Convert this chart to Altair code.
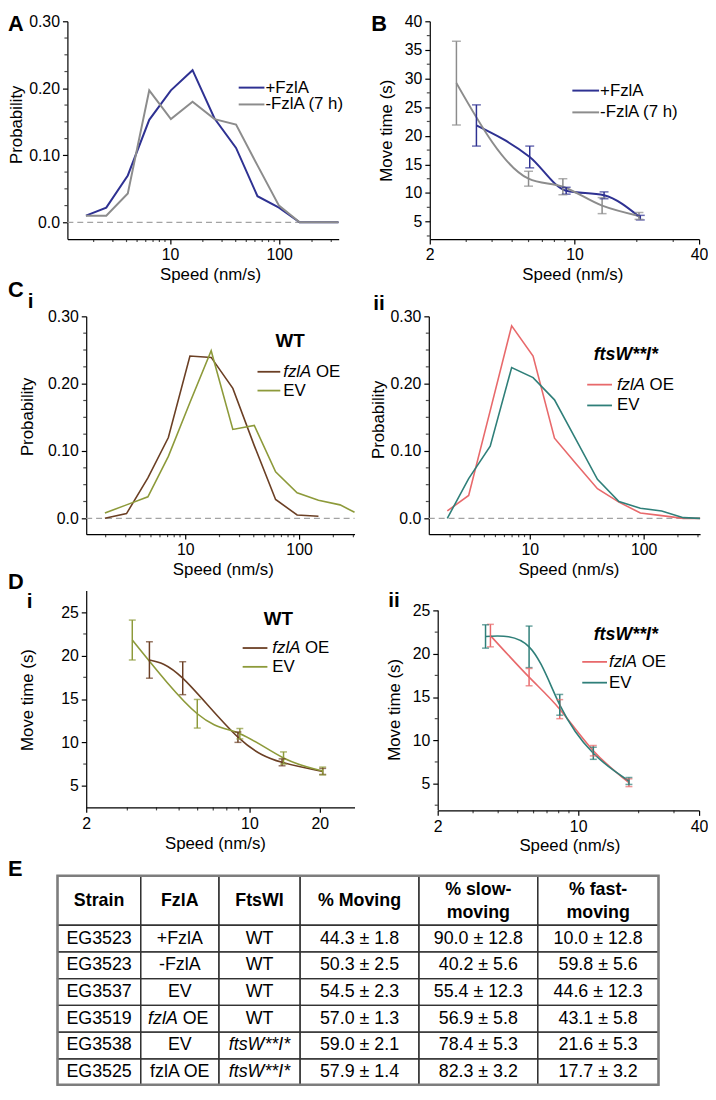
import altair as alt
import pandas as pd

FONT = "Liberation Sans"

# ---------------- data ----------------
A_speed = [1.70, 2.61, 4.11, 6.46, 10.2, 16.1, 25.6, 40.3, 63.3, 99.6, 154, 237, 349]
A_plus = [0.010, 0.022, 0.070, 0.153, 0.197, 0.227, 0.155, 0.111, 0.039, 0.022, 0.0, 0.0, 0.0]
A_minus = [0.010, 0.010, 0.043, 0.197, 0.154, 0.180, 0.154, 0.146, 0.085, 0.025, 0.0, 0.0, 0.0]

B_plus_speed = [3.36, 6.08, 9.12, 13.9, 20.8]
B_plus_time = [21.8, 16.3, 10.4, 9.6, 5.7]
B_plus_err = [3.6, 1.9, 0.6, 0.6, 0.4]
B_minus_speed = [2.69, 6.00, 8.79, 13.6, 20.5]
B_minus_time = [29.2, 12.5, 11.1, 7.8, 6.0]
B_minus_err = [7.3, 1.3, 1.4, 1.4, 0.6]

Ci_speed = [1.97, 3.05, 4.70, 7.11, 11.0, 16.9, 26.2, 40.4, 62.2, 96.1, 148, 229, 307]
Ci_OE = [0.000, 0.007, 0.060, 0.120, 0.241, 0.239, 0.193, 0.108, 0.028, 0.005, 0.003]
Ci_EV = [0.008, 0.020, 0.032, 0.092, 0.172, 0.249, 0.132, 0.138, 0.069, 0.038, 0.027, 0.020, 0.009]

Cii_speed = [1.89, 2.91, 4.50, 6.94, 10.7, 16.5, 25.5, 39.3, 60.7, 93.6, 144, 223, 313]
Cii_OE = [0.011, 0.034, 0.160, 0.286, 0.241, 0.119, 0.081, 0.044, 0.024, 0.008, 0.004, 0.0, 0.0]
Cii_EV = [0.0, 0.059, 0.107, 0.224, 0.209, 0.176, 0.117, 0.058, 0.025, 0.015, 0.011, 0.001, 0.0]

Di_OE_speed = [3.73, 5.18, 8.93, 13.8, 20.6]
Di_OE_time = [19.5, 17.4, 10.6, 7.7, 6.65]
Di_OE_err = [2.1, 1.9, 0.6, 0.4, 0.35]
Di_EV_speed = [3.15, 5.98, 9.1, 14.0, 20.6]
Di_EV_time = [21.8, 13.3, 11.0, 8.2, 6.7]
Di_EV_err = [2.3, 1.65, 0.6, 0.7, 0.45]

Dii_OE_speed = [3.66, 5.70, 8.10, 11.9, 17.9]
Dii_OE_time = [22.1, 17.3, 13.6, 8.8, 5.1]
Dii_OE_err = [1.3, 1.0, 1.1, 0.6, 0.45]
Dii_EV_speed = [3.46, 5.70, 8.10, 11.9, 17.9]
Dii_EV_time = [22.0, 20.8, 14.1, 8.5, 5.3]
Dii_EV_err = [1.35, 2.4, 1.2, 0.7, 0.4]

tab_header = ["Strain", "FzlA", "FtsWI", "% Moving", "% slow-\nmoving", "% fast-\nmoving"]
tab_strain = ["EG3523", "EG3523", "EG3537", "EG3519", "EG3538", "EG3525"]
tab_fzla = ["+FzlA", "-FzlA", "EV", "fzlA OE", "EV", "fzlA OE"]
tab_ftswi = ["WT", "WT", "WT", "WT", "ftsW**I*", "ftsW**I*"]
tab_moving = ["44.3 ± 1.8", "50.3 ± 2.5", "54.5 ± 2.3", "57.0 ± 1.3", "59.0 ± 2.1", "57.9 ± 1.4"]
tab_slow = ["90.0 ± 12.8", "40.2 ± 5.6", "55.4 ± 12.3", "56.9 ± 5.8", "78.4 ± 5.3", "82.3 ± 3.2"]
tab_fast = ["10.0  ± 12.8", "59.8 ± 5.6", "44.6 ± 12.3", "43.1 ± 5.8", "21.6 ± 5.3", "17.7 ± 3.2"]

# ---------------- style ----------------
C_PLUS = "#2e3192"
C_MINUS = "#8c8c8c"
C_WT_OE = "#6b3f24"
C_WT_EV = "#8d9a3a"
C_FT_OE = "#e8696b"
C_FT_EV = "#2f7f79"
MINOR_COLOR = "black"
MINOR_SIZE = 3

ONE = pd.DataFrame({"a": [0]})

PROB_Y_MAJOR = [0.0, 0.1, 0.2, 0.3]
PROB_Y_MINOR = [0.025, 0.05, 0.075, 0.125, 0.15, 0.175, 0.225, 0.25, 0.275]
PROB_EXPR = "datum.value == 0 ? '0.0' : format(datum.value, '.2f')"
INT_EXPR = "format(datum.value, 'd')"
LOG_X_MINOR = [2, 3, 4, 5, 6, 7, 8, 9, 20, 30, 40, 50, 60, 70, 80, 90, 200, 300]


def txt(x, y, s, size=17, weight="normal", style="normal", align="left", baseline="middle"):
    return alt.Chart(ONE).mark_text(
        text=s, font=FONT, fontSize=size, fontWeight=weight, fontStyle=style,
        align=align, baseline=baseline, color="black"
    ).encode(x=alt.value(x), y=alt.value(y))


def seg(x1, x2, y, color, width=2.0):
    return alt.Chart(ONE).mark_rule(color=color, strokeWidth=width).encode(
        x=alt.value(x1), x2=alt.value(x2), y=alt.value(y))


def letter(x, y, s, size=22):
    return txt(x, y, s, size=size, weight="bold", baseline="alphabetic")


def x_major(values, tx):
    return alt.Axis(orient="bottom", values=values, tickSize=5, labelPadding=3,
                    labelExpr="format(datum.value, '~g')",
                    title="Speed (nm/s)", titleX=tx, titleY=36, titleAlign="center",
                    titleBaseline="middle", titleAngle=0)


def y_major(values, title, tx, ty, expr, off, domain=True):
    return alt.Axis(orient="left", values=values, tickSize=5, labelPadding=3, offset=-off,
                    labelExpr=expr, title=title, titleX=tx, titleY=ty,
                    titleAlign="center", titleBaseline="middle", titleAngle=270,
                    domain=domain)


def minor_ticks(xs, ys, xvals, yvals, off, H):
    """Short minor tick marks placed through the panel's own scales."""
    tx = alt.Chart(pd.DataFrame({"v": xvals})).mark_tick(
        orient="vertical", size=MINOR_SIZE, thickness=1.2, color=MINOR_COLOR
    ).encode(x=alt.X("v:Q", scale=xs, axis=None), y=alt.value(H + MINOR_SIZE / 2))
    ty = alt.Chart(pd.DataFrame({"v": yvals})).mark_tick(
        orient="horizontal", size=MINOR_SIZE, thickness=1.2, color=MINOR_COLOR
    ).encode(y=alt.Y("v:Q", scale=ys, axis=None), x=alt.value(off - MINOR_SIZE / 2))
    return [tx, ty]


def prob_panel(speeds, series, colors, CW, off, w, H, xdom, ydom, xmaj,
               xtitle_x, ytx, yty, lw, extras):
    rows = []
    for col, vals in zip(colors, series):
        for s, v in zip(speeds, vals):
            rows.append({"speed": s, "p": v, "color": col})
    df = pd.DataFrame(rows)
    xs = alt.Scale(type="log", domain=xdom, range=[off, off + w], nice=False)
    ys = alt.Scale(domain=ydom, nice=False, zero=False)
    zero = alt.Chart(pd.DataFrame({"z": [0.0]})).mark_rule(
        color="#a3a3a3", strokeDash=[6, 4], strokeWidth=1.2
    ).encode(x=alt.value(off), x2=alt.value(off + w), y=alt.Y("z:Q", scale=ys, axis=None))
    lines = alt.Chart(df).mark_line(strokeWidth=lw).encode(
        x=alt.X("speed:Q", scale=xs, axis=x_major(xmaj, xtitle_x)),
        y=alt.Y("p:Q", scale=ys, axis=y_major(PROB_Y_MAJOR, "Probability", ytx, yty,
                                              PROB_EXPR, off)),
        color=alt.Color("color:N", scale=None), detail="color:N")
    mt = minor_ticks(xs, ys, LOG_X_MINOR, PROB_Y_MINOR, off, H)
    return alt.layer(zero, lines, *mt, *extras).properties(width=CW, height=H).resolve_axis(
        x="independent", y="independent")


def time_panel(groups, colors, CW, off, w, H, xdom, ydom, xmaj, xmin, ymaj, ymin,
               xtitle_x, ytx, yty, lw, cap, extras, ydomain_line=True, interp="natural"):
    rows = []
    for col, (sp, tm, er) in zip(colors, groups):
        for s, t, e in zip(sp, tm, er):
            rows.append({"speed": s, "t": t, "lo": t - e, "hi": t + e, "color": col})
    df = pd.DataFrame(rows)
    xs = alt.Scale(type="log", domain=xdom, range=[off, off + w], nice=False)
    ys = alt.Scale(domain=ydom, nice=False, zero=False)
    col = alt.Color("color:N", scale=None)
    xn = alt.X("speed:Q", scale=xs, axis=None)
    lines = alt.Chart(df).mark_line(strokeWidth=lw, interpolate=interp).encode(
        x=alt.X("speed:Q", scale=xs, axis=x_major(xmaj, xtitle_x)),
        y=alt.Y("t:Q", scale=ys, axis=y_major(ymaj, "Move time (s)", ytx, yty, INT_EXPR,
                                              off, domain=ydomain_line)),
        color=col, detail="color:N")
    bars = alt.Chart(df).mark_rule(strokeWidth=1.5).encode(
        x=xn, y=alt.Y("lo:Q", scale=ys, axis=None), y2="hi:Q", color=col)
    cap_lo = alt.Chart(df).mark_tick(orient="horizontal", size=cap, thickness=1.5).encode(
        x=xn, y=alt.Y("lo:Q", scale=ys, axis=None), color=col)
    cap_hi = alt.Chart(df).mark_tick(orient="horizontal", size=cap, thickness=1.5).encode(
        x=xn, y=alt.Y("hi:Q", scale=ys, axis=None), color=col)
    layers = [lines, bars, cap_lo, cap_hi] + minor_ticks(xs, ys, xmin, ymin, off, H)
    if not ydomain_line:
        dl = alt.Chart(pd.DataFrame({"lo": [ydom[0]], "hi": [ymaj[-1]]})).mark_rule(
            color="black", strokeWidth=1.2).encode(
            x=alt.value(off + 0.5), y=alt.Y("lo:Q", scale=ys, axis=None), y2="hi:Q")
        layers.append(dl)
    return alt.layer(*layers, *extras).properties(width=CW, height=H).resolve_axis(
        x="independent", y="independent")


def spacer(w, h):
    return alt.Chart(ONE).mark_point(opacity=0).properties(width=w, height=h)


# ---------------- panels ----------------
LEFT_W, RIGHT_W = 300, 274

anchor = alt.Chart(ONE).mark_rect(opacity=0).encode(
    x=alt.value(-50), x2=alt.value(-49), y=alt.value(-8), y2=alt.value(-7))

oA = 10
panelA = prob_panel(
    A_speed, [A_plus, A_minus], [C_PLUS, C_MINUS],
    LEFT_W, oA, 274, 220, [1.15, 351], [-0.025, 0.30], [10, 100],
    144 + oA, -51, 104, 2.0,
    [anchor, letter(-50, 10, "A"),
     seg(173 + oA, 199 + oA, 67, C_PLUS), txt(200 + oA, 67, "+FzlA"),
     seg(173 + oA, 199 + oA, 84, C_MINUS), txt(200 + oA, 84, "-FzlA (7 h)")])

oB = 1
panelB = time_panel(
    [(B_plus_speed, B_plus_time, B_plus_err), (B_minus_speed, B_minus_time, B_minus_err)],
    [C_PLUS, C_MINUS],
    RIGHT_W, oB, 272, 220, [2, 40], [1.95, 40], [2, 10, 40], [3, 4, 5, 6, 7, 8, 9, 20, 30],
    [5, 10, 15, 20, 25, 30, 35, 40], [2.5, 7.5, 12.5, 17.5, 22.5, 27.5, 32.5, 37.5],
    144 + oB, -44, 110, 2.0, 9,
    [letter(-58, 10, "B"),
     seg(144 + oB, 171 + oB, 70, C_PLUS), txt(172 + oB, 70, "+FzlA"),
     seg(144 + oB, 171 + oB, 92, C_MINUS), txt(172 + oB, 92, "-FzlA (7 h)")],
    interp="monotone")

oC = 29
panelCi = prob_panel(
    Ci_speed, [Ci_OE, Ci_EV], [C_WT_OE, C_WT_EV],
    LEFT_W, oC, 271, 220, [1.35, 307], [-0.0235, 0.30], [10, 100],
    138 + oC, -59, 101, 1.6,
    [letter(-50, -20, "C"), letter(-30, -8, "i", 21),
     txt(206 + oC, 25, "WT", size=19, weight="bold", align="center"),
     seg(173 + oC, 196 + oC, 56, C_WT_OE, 1.8), txt(199 + oC, 56, "fzlA", style="italic"),
     txt(232 + oC, 56, "OE"),
     seg(173 + oC, 196 + oC, 75, C_WT_EV, 1.8), txt(199 + oC, 75, "EV")])

oCii = 0
panelCii = prob_panel(
    Cii_speed, [Cii_OE, Cii_EV], [C_FT_OE, C_FT_EV],
    RIGHT_W, oCii, 274, 220, [1.30, 313], [-0.0235, 0.30], [10, 100],
    141, -51, 104, 1.6,
    [letter(-56, -6, "ii", 21),
     txt(199, 39, "ftsW**I*", size=18, weight="bold", style="italic", align="center"),
     seg(160, 185, 69, C_FT_OE, 1.8), txt(190, 69, "fzlA", style="italic"), txt(223, 69, "OE"),
     seg(160, 185, 90, C_FT_EV, 1.8), txt(190, 90, "EV")])

oD = 29
panelDi = time_panel(
    [(Di_OE_speed, Di_OE_time, Di_OE_err), (Di_EV_speed, Di_EV_time, Di_EV_err)],
    [C_WT_OE, C_WT_EV],
    LEFT_W, oD, 271, 219, [2, 28.2], [2.5, 27.5], [2, 10, 20], [3, 4, 5, 6, 7, 8, 9],
    [5, 10, 15, 20, 25], [7.5, 12.5, 17.5, 22.5],
    130 + oD, -59, 110, 1.6, 7,
    [letter(-50, -2, "D"), letter(-31, 18, "i", 21),
     txt(194 + oD, 29, "WT", size=19, weight="bold", align="center"),
     seg(158 + oD, 183 + oD, 58, C_WT_OE, 1.8), txt(188 + oD, 58, "fzlA", style="italic"),
     txt(221 + oD, 58, "OE"),
     seg(158 + oD, 183 + oD, 77, C_WT_EV, 1.8), txt(188 + oD, 77, "EV")])

oDii = 9
panelDii = time_panel(
    [(Dii_OE_speed, Dii_OE_time, Dii_OE_err), (Dii_EV_speed, Dii_EV_time, Dii_EV_err)],
    [C_FT_OE, C_FT_EV],
    RIGHT_W, oDii, 264, 222, [2, 40], [1.9, 27.3], [2, 10, 40], [3, 4, 5, 6, 7, 8, 9, 20, 30],
    [5, 10, 15, 20, 25], [2.5, 7.5, 12.5, 17.5, 22.5],
    133 + oDii, -44, 120, 1.6, 7,
    [letter(-41, 17, "ii", 21),
     txt(190 + oDii, 45, "ftsW**I*", size=18, weight="bold", style="italic", align="center"),
     seg(146 + oDii, 171 + oDii, 72, C_FT_OE, 1.8),
     txt(173 + oDii, 72, "fzlA", style="italic"), txt(206 + oDii, 72, "OE"),
     seg(146 + oDii, 171 + oDii, 93, C_FT_EV, 1.8), txt(173 + oDii, 93, "EV")],
    ydomain_line=False)

# ---------------- table ----------------
col_edges = [0, 84, 163, 245, 365, 485, 607]
row_edges = [0, 50, 77, 104, 131, 158, 185, 211]
TW, TH = col_edges[-1], row_edges[-1]

cells = []
for r in range(len(row_edges) - 1):
    for c in range(len(col_edges) - 1):
        cells.append({"x1": col_edges[c], "x2": col_edges[c + 1],
                      "y1": row_edges[r], "y2": row_edges[r + 1]})
cells = pd.DataFrame(cells)

parts = []
head_mid = (row_edges[0] + row_edges[1]) / 2 + 1
for c, h in enumerate(tab_header):
    n_lines = h.count("\n") + 1
    parts.append({"x": (col_edges[c] + col_edges[c + 1]) / 2,
                  "y": head_mid - (n_lines - 1) * 11.5, "text": h, "style": "bold"})
body_cols = [tab_strain, tab_fzla, tab_ftswi, tab_moving, tab_slow, tab_fast]
for r in range(len(tab_strain)):
    yc = (row_edges[r + 1] + row_edges[r + 2]) / 2
    for c, colvals in enumerate(body_cols):
        cx = (col_edges[c] + col_edges[c + 1]) / 2
        t = colvals[r]
        if c == 1 and r == 3:
            parts.append({"x": cx - 32, "y": yc, "text": "fzlA", "style": "italic_left"})
            parts.append({"x": cx + 3, "y": yc, "text": "OE", "style": "normal_left"})
        elif c == 2 and t.startswith("ftsW"):
            parts.append({"x": cx, "y": yc, "text": t, "style": "italic"})
        else:
            parts.append({"x": cx, "y": yc, "text": t, "style": "normal"})
parts = pd.DataFrame(parts)


def tab_text(style, weight, fstyle, align):
    d = parts[parts["style"] == style]
    return alt.Chart(d).mark_text(
        font=FONT, fontSize=18, fontWeight=weight, fontStyle=fstyle, align=align,
        baseline="middle", color="black", lineBreak="\n", lineHeight=23
    ).encode(x=alt.X("x:Q", scale=None, axis=None), y=alt.Y("y:Q", scale=None, axis=None),
             text="text:N")


grid_rects = alt.Chart(cells).mark_rect(fillOpacity=0, stroke="#333333", strokeWidth=1.3).encode(
    x=alt.X("x1:Q", scale=None, axis=None), x2="x2:Q",
    y=alt.Y("y1:Q", scale=None, axis=None), y2="y2:Q")
outer = alt.Chart(pd.DataFrame({"x1": [0], "x2": [TW], "y1": [0], "y2": [TH]})).mark_rect(
    fillOpacity=0, stroke="#7d7d7d", strokeWidth=2.5).encode(
    x=alt.X("x1:Q", scale=None, axis=None), x2="x2:Q",
    y=alt.Y("y1:Q", scale=None, axis=None), y2="y2:Q")

table = alt.layer(
    grid_rects, outer,
    tab_text("bold", "bold", "normal", "center"),
    tab_text("normal", "normal", "normal", "center"),
    tab_text("italic", "normal", "italic", "center"),
    tab_text("italic_left", "normal", "italic", "left"),
    tab_text("normal_left", "normal", "normal", "left"),
    letter(-50, 0, "E"),
).properties(width=LEFT_W, height=TH)

# ---------------- layout ----------------
chart = alt.concat(
    panelA, panelB,
    spacer(1, 78), spacer(1, 78),
    panelCi, panelCii,
    spacer(1, 57), spacer(1, 57),
    panelDi, panelDii,
    spacer(1, 66), spacer(1, 66),
    table, spacer(1, 1),
    columns=2, spacing={"row": 0, "column": 75}, bounds="flush", align="each",
    padding=0,
).configure_axis(
    labelFont=FONT, labelFontSize=16, labelColor="black",
    titleFont=FONT, titleFontSize=17, titleFontWeight="normal", titleColor="black",
    domainColor="black", tickColor="black", domainWidth=1.2, tickWidth=1.2,
    grid=False, labelFlush=False, labelOverlap=False,
).configure_view(strokeWidth=0)

chart.save("out.html", embed_options={"renderer": "svg", "actions": False})
